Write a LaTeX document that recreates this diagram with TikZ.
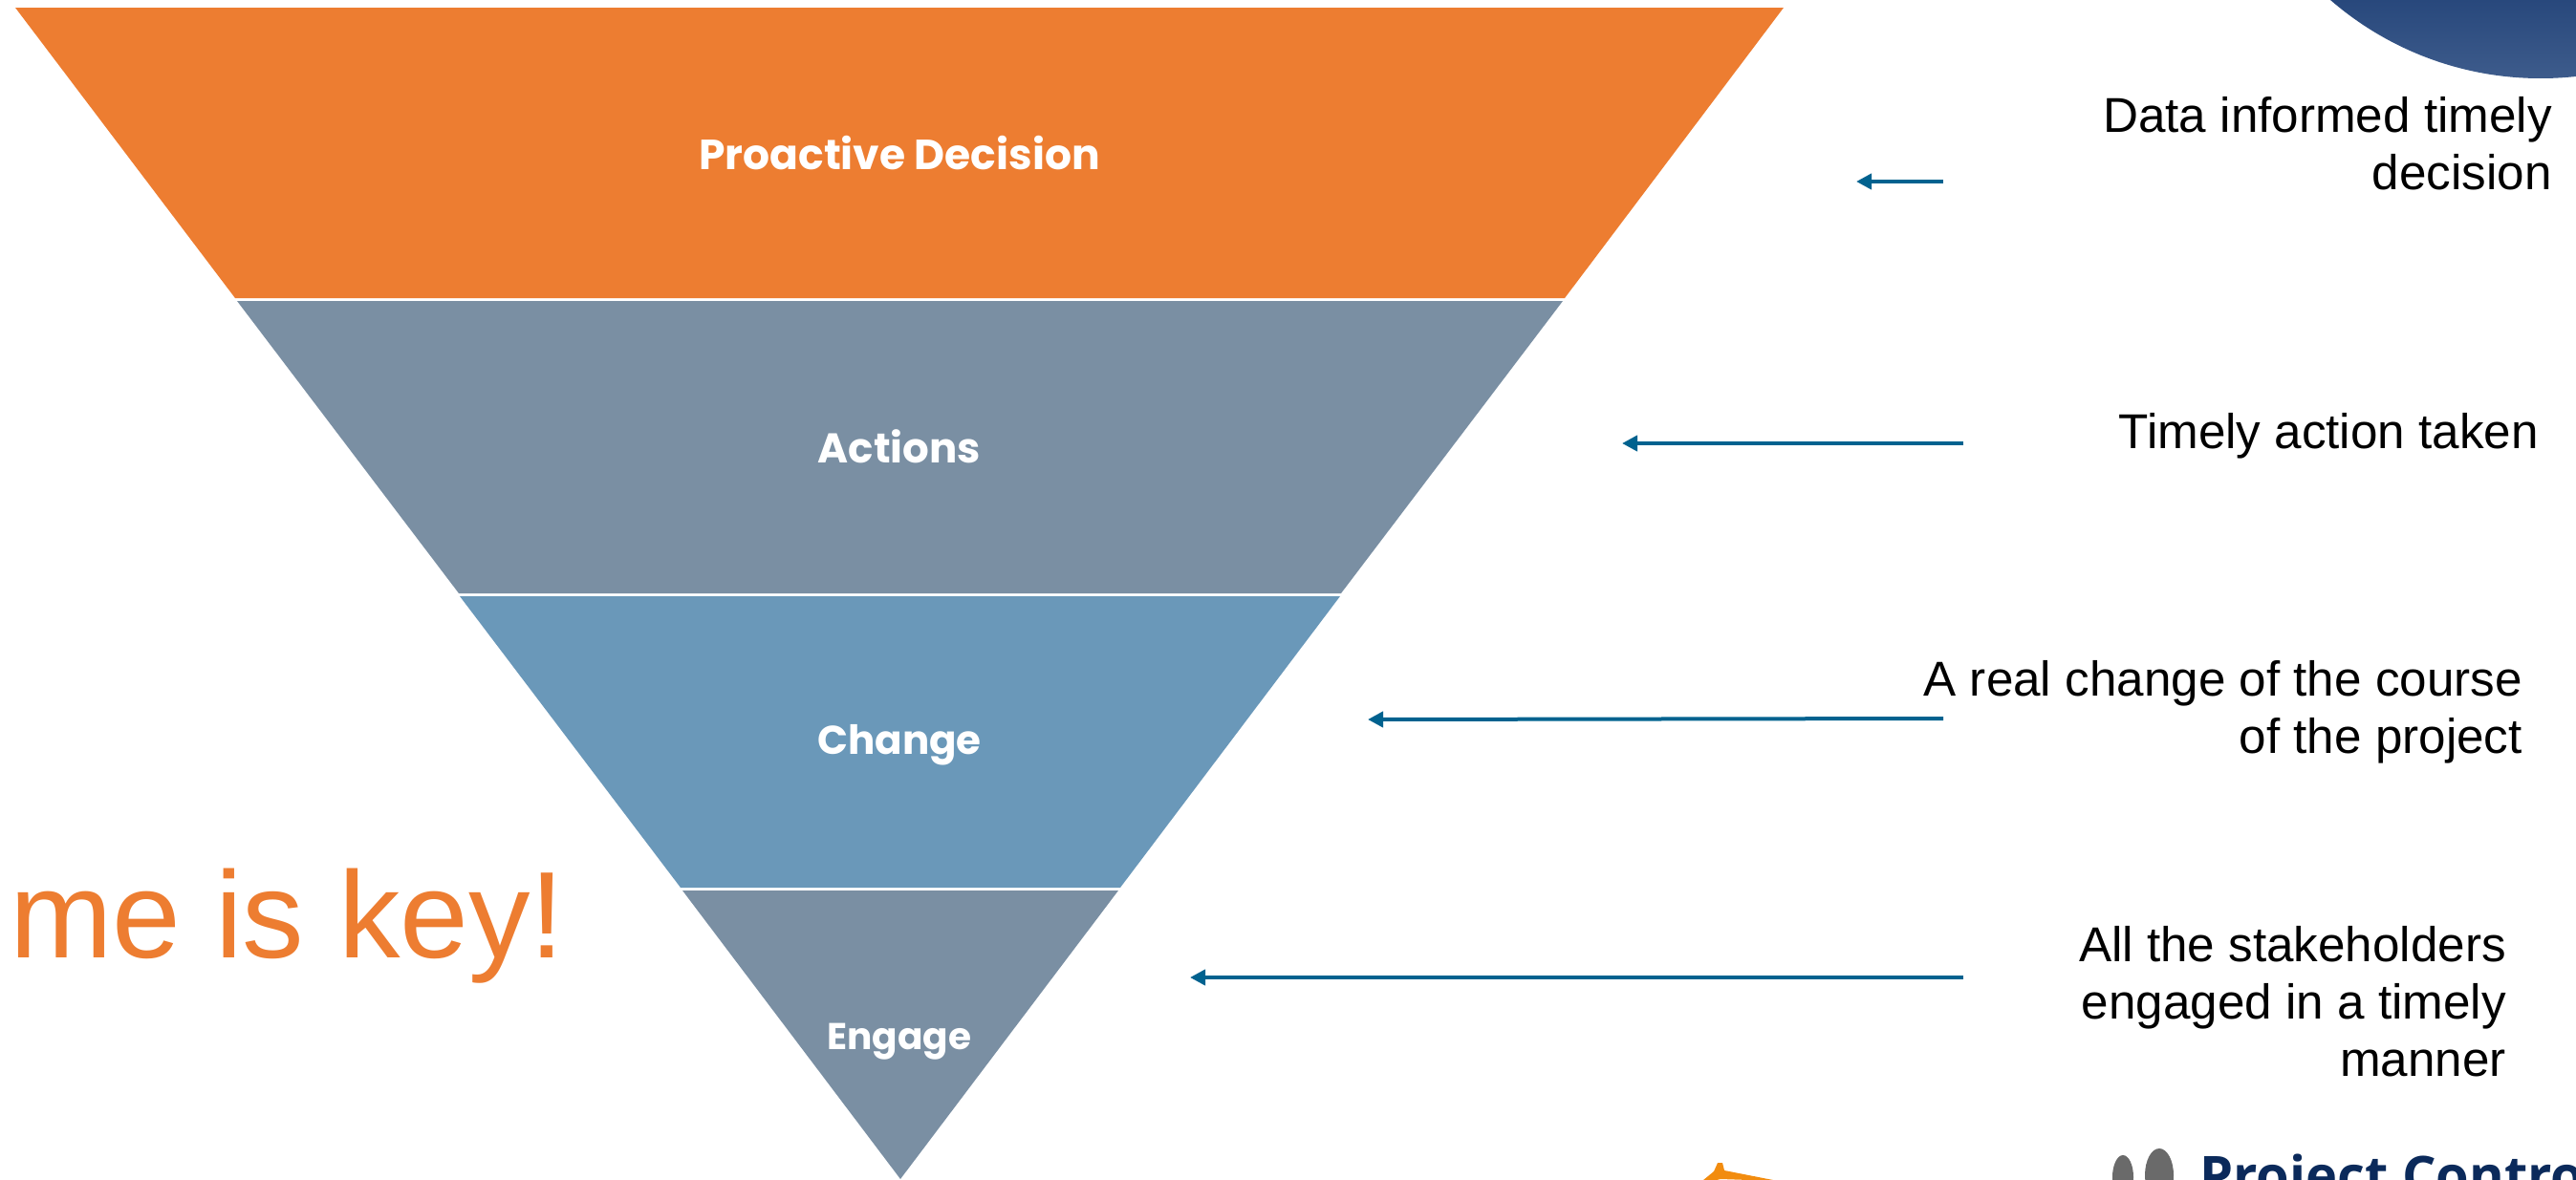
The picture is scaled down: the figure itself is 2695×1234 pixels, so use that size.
\documentclass[tikz,border=0pt]{standalone}
\usepackage{fontspec}
\usetikzlibrary{arrows.meta}
\setmainfont{Liberation Sans}
\newfontfamily\bandfont{Poppins}
\newfontfamily\logofont{Open Sans}
\definecolor{bandorange}{HTML}{ED7D31}
\definecolor{bandslate}{HTML}{7A8FA3}
\definecolor{bandblue}{HTML}{6A98B9}
\definecolor{arrowblue}{HTML}{00628F}
\definecolor{logonavy}{HTML}{0B2A5B}
\definecolor{logogray}{HTML}{6A6A6A}
\definecolor{sparkorange}{HTML}{F28C0F}
\definecolor{discA}{HTML}{28487C}
\definecolor{discB}{HTML}{3E5C8C}
\tikzset{
  x=1pt,y=-1pt,
  band/.style={fill=#1,draw=none},
  bandlabel/.style={text=white,font=\bandfont\bfseries\fontsize{#1}{#1}\selectfont,inner sep=0pt,anchor=center},
  note/.style={text=black,font=\fontsize{51.2}{60}\selectfont,align=right,inner sep=0pt,anchor=east},
  leader/.style={draw=arrowblue,line width=4pt,-{Triangle[length=16pt,width=16pt]}},
}
\begin{document}
\begin{tikzpicture}
\useasboundingbox (0,0) rectangle (2695,1234);
\begin{scope}
\clip (0,0) rectangle (2695,1234);
\begin{scope}
\clip (2658,-254) circle (336);
\shade[top color=discA,bottom color=discB] (2300,0) rectangle (2695,84);
\end{scope}
\fill[band=bandorange] (16,8) -- (1866,8) -- (1637,312) -- (246,312) -- cycle;
\fill[band=bandslate] (248,315) -- (1635,315) -- (1403,621) -- (480,621) -- cycle;
\fill[band=bandblue] (481,624) -- (1402,624) -- (1172,929) -- (712,929) -- cycle;
\fill[band=bandslate] (714,932) -- (1170,932) -- (942,1234) -- cycle;
\node[bandlabel=44] (pd) at (941,160) {Proactive Decision};
\node[bandlabel=43.5] (ac) at (941,467) {Actions};
\node[bandlabel=42] (ch) at (941,780) {Change};
\node[bandlabel=39] (en) at (941,1090) {Engage};
\node[text=bandorange,font=\fontsize{129}{129}\selectfont,inner sep=0pt,anchor=base west] (key) at (10,1002) {me is key!};
\node[note] (n1) at (2670,150) {Data informed timely\\decision};
\node[note] (n2) at (2656,456) {Timely action taken};
\node[note] (n3) at (2639,745) {A real change of the course\\of the project};
\node[note] (n4) at (2622,1048) {All the stakeholders\\engaged in a timely\\manner};
\coordinate (a1s) at (2033,190); \coordinate (a1e) at (1942,190);
\coordinate (a2s) at (2054,464); \coordinate (a2e) at (1697,464);
\coordinate (a3s) at (2033,752); \coordinate (a3e) at (1431,753);
\coordinate (a4s) at (2054,1023); \coordinate (a4e) at (1245,1023);
\draw[leader] (a1s) -- (a1e);
\draw[leader] (a2s) -- (a2e);
\draw[leader] (a3s) -- (a3e);
\draw[leader] (a4s) -- (a4e);
\fill[logogray] (2221,1232) ellipse (11 and 23);
\fill[logogray] (2259,1230) ellipse (15 and 28);
\node[text=logonavy,font=\logofont\bfseries\fontsize{56}{56}\selectfont,inner sep=0pt,anchor=base west] (logo) at (2301,1250) {Project Control};
\fill[sparkorange] (1797,1217) -- (1802,1217) -- (1804,1225) -- (1860,1236) -- (1800,1234) -- (1776,1240) -- (1793,1226) -- cycle;
\end{scope}
\end{tikzpicture}
\end{document}
